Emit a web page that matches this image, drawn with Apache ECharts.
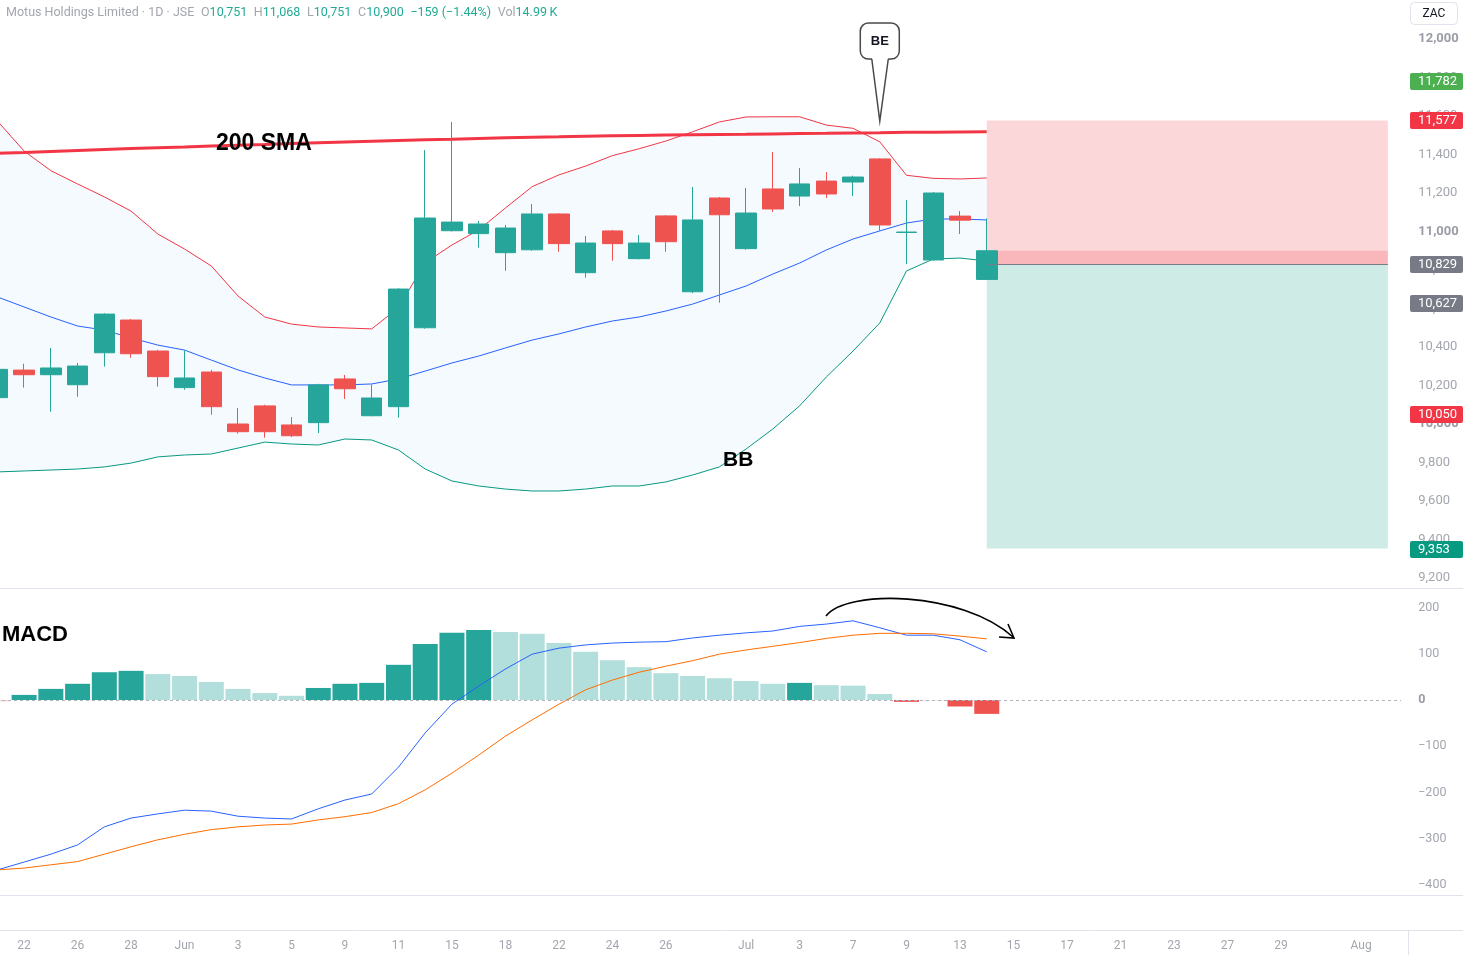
<!DOCTYPE html>
<html><head><meta charset="utf-8">
<script src="https://cdn.jsdelivr.net/npm/echarts@6/dist/echarts.min.js"></script>
<style>html,body{margin:0;padding:0;background:#fff;overflow:hidden;width:1463px;height:955px;position:relative}#c{position:absolute;left:-16px;top:0;width:1479px;height:955px}</style>
</head><body><div id="c"></div>
<script>
// ---------- DATA ----------
const categories = [
 '2020-05-21','2020-05-22','2020-05-25','2020-05-26','2020-05-27','2020-05-28','2020-05-29',
 '2020-06-01','2020-06-02','2020-06-03','2020-06-04','2020-06-05','2020-06-08','2020-06-09','2020-06-10','2020-06-11','2020-06-12',
 '2020-06-15','2020-06-17','2020-06-18','2020-06-19','2020-06-22','2020-06-23','2020-06-24','2020-06-25','2020-06-26','2020-06-29','2020-06-30',
 '2020-07-01','2020-07-02','2020-07-03','2020-07-06','2020-07-07','2020-07-08','2020-07-09','2020-07-10','2020-07-13','2020-07-14',
 '2020-07-15','2020-07-16','2020-07-17','2020-07-20','2020-07-21','2020-07-22','2020-07-23','2020-07-24','2020-07-27','2020-07-28',
 '2020-07-29','2020-07-30','2020-07-31','2020-08-03','2020-08-04'];
const xTickLabels = [
 '','22','','26','','28','',
 'Jun','','3','','5','','9','','11','',
 '15','','18','','22','','24','','26','','',
 'Jul','','3','','7','','9','','13','',
 '15','','17','','21','','23','','27','',
 '29','','','Aug',''];
const openP  = [10137,10280,10256,10204,10370,10540,10379,10189,10270,10000,10094,9995,10007,10234,10043,10090,10500,11004,10989,10890,10905,11091,10786,11003,10859,11081,10687,11174,10911,11221,11184,11262,11257,11377,10995,10852,11080,10751];
const closeP = [10284,10256,10291,10301,10571,10365,10246,10239,10090,9960,9960,9939,10203,10183,10135,10701,11070,11049,11039,11018,11091,10937,10940,10937,10940,10947,11060,11087,11096,11117,11247,11195,11283,11034,10997,11200,11059,10900];
const lowP   = [10100,10189,10064,10142,10298,10344,10194,10178,10048,9950,9929,9932,9953,10130,10040,10033,10495,11000,10916,10796,10900,10895,10760,10848,10855,10895,10680,10630,10905,11101,11132,11174,11184,11003,10831,10848,10987,10751];
const highP  = [10300,10313,10395,10317,10575,10545,10385,10383,10281,10083,10100,10036,10209,10255,10206,10705,11423,11569,11055,11034,11143,11095,10977,11008,10982,11085,11231,11179,11226,11413,11330,11309,11290,11380,11164,11205,11106,11068];
const bbUpper  = [11574,11418,11316,11247,11180,11106,10987,10909,10821,10665,10556,10519,10504,10499,10494,10604,10838,10930,11008,11122,11233,11294,11340,11394,11430,11470,11518,11569,11595,11596,11596,11553,11536,11466,11292,11276,11273,11278];
const bbMiddle = [10660,10608,10556,10509,10488,10447,10410,10384,10332,10281,10239,10203,10203,10203,10208,10234,10275,10317,10353,10395,10436,10468,10504,10535,10556,10587,10623,10670,10717,10779,10836,10904,10961,11003,11044,11065,11065,11060];
const bbLower  = [9751,9756,9761,9766,9777,9797,9829,9839,9844,9875,9906,9896,9891,9922,9917,9865,9766,9704,9678,9662,9652,9652,9662,9678,9678,9699,9735,9777,9870,9974,10094,10244,10379,10525,10795,10857,10862,10847];
const sma200   = [11406,11410,11416,11421,11426,11431,11435,11439,11444,11448,11452,11457,11461,11465,11469,11473,11477,11479,11483,11487,11490,11492,11495,11497,11499,11501,11503,11504,11505,11507,11509,11510,11512,11513,11515,11516,11517,11518];
const macdLine   = [-367,-350,-333,-313,-274,-255,-246,-238,-240,-251,-255,-257,-235,-216,-203,-145,-71,-9,30,67,99,112,119,123,125,126,134,140,145,149,159,164,171,156,140,140,130,104];
const signalLine = [-367,-363,-356,-349,-333,-317,-302,-290,-280,-274,-270,-268,-259,-252,-243,-224,-194,-158,-119,-78,-43,-9,22,43,60,73,85,99,108,116,124,133,140,144,144,143,138,132];
const macdHist   = [-3,11,24,35,60,63,56,52,39,24,15,9,26,35,37,76,121,145,151,147,143,123,104,86,71,58,52,47,41,35,37,32,31,13,-4,-1,-14,-30];
const priceTags  = [11782, 11577, 10829, 10627, 10050, 9353];
const tagColors  = ['#4caf50','#f23645','#787b86','#787b86','#f23645','#089981'];
const stopPrice = 11577, entryPrice = 10829, targetPrice = 9353;
const posStart = '2020-07-14', posEnd = '2020-08-04';
const beAnchor = ['2020-07-08', 11574];
const headerTitle = 'Motus Holdings Limited · 1D · JSE';
const headerChange = '\u2212159 (\u22121.44%)';
const headerVol = '14.99\u2009K';

// ---------- CHART ----------
const OX = 16; // container is shifted left by OX px
const UP = '#26a69a', DOWN = '#ef5350';
const n = openP.length;
const pad = arr => categories.map((c, i) => i < arr.length ? arr[i] : '-');
const candleData = categories.map((c, i) => i < n ? [openP[i], closeP[i], lowP[i], highP[i]] : '-');
const bandData = pad(bbUpper.map((u, i) => u - bbLower[i]));
const histData = categories.map((c, i) => {
  if (i >= n) return '-';
  const v = macdHist[i], p = i > 0 ? macdHist[i - 1] : v;
  let col;
  if (v >= 0) col = v > p ? '#26a69a' : '#b2dfdb';
  else col = v < p ? '#ef5350' : '#ffcdd2';
  if (i === 0) col = '#ffcdd2';
  return { value: v, itemStyle: { color: col } };
});
const fmtNum = v => {
  const s = Math.abs(v).toLocaleString('en-US');
  return (v < 0 ? '\u2212' : '') + s;
};
const axisFont = 'Roboto, "Noto Sans", sans-serif';
const LBL = '#a3a6af';
const bw = 26.74;
const gridWidth = bw * categories.length;

const chart = echarts.init(document.getElementById('c'), null, { renderer: 'canvas' });
const option = {
  animation: false,
  backgroundColor: '#ffffff',
  grid: [
    { left: 0, width: gridWidth, top: 0.5, height: 577.5 },
    { left: 0, width: gridWidth, top: 607.4, height: 277.8 }
  ],
  xAxis: [
    { type: 'category', gridIndex: 0, data: categories, boundaryGap: true, show: false },
    { type: 'category', gridIndex: 1, data: categories, boundaryGap: true, offset: 45,
      axisLine: { show: false }, axisTick: { show: false }, splitLine: { show: false },
      axisLabel: { interval: 0, margin: 10, color: LBL, fontSize: 12, fontFamily: axisFont, hideOverlap: false,
        formatter: (v, i) => xTickLabels[i] } }
  ],
  yAxis: [
    { type: 'value', gridIndex: 0, position: 'right', min: 9200, max: 12200, interval: 200,
      axisLine: { show: false }, axisTick: { show: false }, splitLine: { show: false },
      axisLabel: { margin: 17, color: LBL, fontSize: 13, fontFamily: axisFont, align: 'left',
        formatter: v => v === 12200 ? '' : (v % 1000 === 0 ? '{b|' + fmtNum(v) + '}' : fmtNum(v)),
        rich: { b: { fontWeight: 'bold', color: '#9a9da6', fontSize: 13, fontFamily: axisFont } } } },
    { type: 'value', gridIndex: 1, position: 'right', min: -400, max: 200, interval: 100,
      axisLine: { show: false }, axisTick: { show: false }, splitLine: { show: false },
      axisLabel: { margin: 17, color: LBL, fontSize: 12.5, fontFamily: axisFont, align: 'left',
        formatter: v => v === 0 ? '{b|0}' : fmtNum(v),
        rich: { b: { fontWeight: 'bold', color: '#9a9da6', fontSize: 12.5, fontFamily: axisFont } } } }
  ],
  series: [
    { name: 'bbBase', type: 'line', xAxisIndex: 0, yAxisIndex: 0, data: pad(bbLower), stack: 'bb',
      symbol: 'none', lineStyle: { opacity: 0 }, silent: true, z: 1 },
    { name: 'bbBand', type: 'line', xAxisIndex: 0, yAxisIndex: 0, data: bandData, stack: 'bb',
      symbol: 'none', lineStyle: { opacity: 0 }, areaStyle: { color: 'rgba(33,150,243,0.05)', opacity: 1 }, silent: true, z: 1 },
    { name: 'upper', type: 'line', xAxisIndex: 0, yAxisIndex: 0, data: pad(bbUpper), symbol: 'none',
      lineStyle: { color: '#f23645', width: 1 }, z: 2 },
    { name: 'middle', type: 'line', xAxisIndex: 0, yAxisIndex: 0, data: pad(bbMiddle), symbol: 'none',
      lineStyle: { color: '#2962ff', width: 1 }, z: 2 },
    { name: 'lower', type: 'line', xAxisIndex: 0, yAxisIndex: 0, data: pad(bbLower), symbol: 'none',
      lineStyle: { color: '#089981', width: 1 }, z: 2 },
    { name: 'sma', type: 'line', xAxisIndex: 0, yAxisIndex: 0, data: pad(sma200), symbol: 'none',
      lineStyle: { color: '#f23645', width: 3 }, z: 3 },
    { name: 'price', type: 'candlestick', xAxisIndex: 0, yAxisIndex: 0, data: candleData, barWidth: 21,
      itemStyle: { color: UP, color0: DOWN, borderColor: UP, borderColor0: DOWN, borderWidth: 1 }, z: 4 },
    { name: 'position', type: 'line', xAxisIndex: 0, yAxisIndex: 0, data: categories.map(() => '-'), z: 6,
      silent: true,
      markArea: { silent: true, label: { show: false },
        data: [
          [{ xAxis: posStart, yAxis: stopPrice, itemStyle: { color: 'rgba(242,54,69,0.2)' } }, { xAxis: posEnd, yAxis: entryPrice }],
          [{ xAxis: posStart, yAxis: entryPrice, itemStyle: { color: 'rgba(8,153,129,0.2)' } }, { xAxis: posEnd, yAxis: targetPrice }],
          [{ xAxis: posStart, yAxis: closeP[n - 1], itemStyle: { color: 'rgba(242,54,69,0.2)' } }, { xAxis: posEnd, yAxis: entryPrice }]
        ] },
      markLine: { silent: true, symbol: 'none', label: { show: false },
        lineStyle: { color: '#787b86', width: 1, type: 'solid' },
        data: [[{ xAxis: posStart, yAxis: entryPrice }, { xAxis: posEnd, yAxis: entryPrice }]] } },
    { name: 'hist', type: 'bar', xAxisIndex: 1, yAxisIndex: 1, data: histData, barWidth: 25, z: 2,
      markLine: { silent: true, symbol: 'none', label: { show: false },
        lineStyle: { color: '#b2b5be', width: 1, type: [3, 3] }, data: [{ yAxis: 0 }] } },
    { name: 'macd', type: 'line', xAxisIndex: 1, yAxisIndex: 1, data: pad(macdLine), symbol: 'none',
      lineStyle: { color: '#2962ff', width: 1 }, z: 3 },
    { name: 'signal', type: 'line', xAxisIndex: 1, yAxisIndex: 1, data: pad(signalLine), symbol: 'none',
      lineStyle: { color: '#ff6d00', width: 1 }, z: 3 }
  ]
};
chart.setOption(option);

// ---------- ANNOTATIONS ----------
const g = [];
const SEP = '#e0e3eb';
[588, 895, 930].forEach(y => g.push({ type: 'line', shape: { x1: 0, y1: y + 0.5, x2: 1463 + OX, y2: y + 0.5 }, style: { stroke: SEP, lineWidth: 1 }, z: 50, silent: true }));
g.push({ type: 'line', shape: { x1: 1408.5 + OX, y1: 930, x2: 1408.5 + OX, y2: 955 }, style: { stroke: SEP, lineWidth: 1 }, z: 50, silent: true });

priceTags.forEach((p, i) => {
  const y = chart.convertToPixel({ yAxisIndex: 0 }, p);
  g.push({ type: 'rect', shape: { x: 1410 + OX, y: Math.round(y) - 8, width: 53, height: 17, r: 2 }, style: { fill: tagColors[i] }, z: 100, silent: true });
  g.push({ type: 'text', x: 1418 + OX, y: Math.round(y) + 0.5, style: { text: fmtNum(p), fill: '#ffffff', font: '13px ' + axisFont, verticalAlign: 'middle', align: 'left' }, z: 101, silent: true });
});

// ZAC box
g.push({ type: 'rect', shape: { x: 1410.5 + OX, y: 2.5, width: 47, height: 22, r: 4 }, style: { fill: '#fff', stroke: '#e0e3eb', lineWidth: 1 }, z: 100 });
g.push({ type: 'text', x: 1434 + OX, y: 14, style: { text: 'ZAC', fill: '#131722', font: '12px ' + axisFont, align: 'center', verticalAlign: 'middle' }, z: 101 });

// header
const lc = closeP[n - 1], lo = openP[n - 1], lh = highP[n - 1], ll = lowP[n - 1];
g.push({ type: 'text', x: 6 + OX, y: 13, z: 100, style: {
  text: '{t|' + headerTitle + '}  {g|O}{v|' + fmtNum(lo) + '}  {g|H}{v|' + fmtNum(lh) + '}  {g|L}{v|' + fmtNum(ll) + '}  {g|C}{v|' + fmtNum(lc) + '}  {v|' + headerChange + '}  {g|Vol}{v|' + headerVol + '}',
  verticalAlign: 'middle',
  rich: {
    t: { fill: '#a3a6af', font: '12.5px ' + axisFont },
    g: { fill: '#a3a6af', font: '12.5px ' + axisFont },
    v: { fill: '#22ab94', font: '12.5px ' + axisFont }
  } } });

// text annotations
const annFamily = '"Liberation Sans", Arial, sans-serif';
g.push({ type: 'text', x: 216 + OX, y: 144, z: 60, style: { text: '200 SMA', fill: '#000', font: 'bold 23px ' + annFamily, verticalAlign: 'middle' } });
g.push({ type: 'text', x: 723 + OX, y: 460, z: 60, style: { text: 'BB', fill: '#000', font: 'bold 21px ' + annFamily, verticalAlign: 'middle' } });
g.push({ type: 'text', x: 2 + OX, y: 635, z: 60, style: { text: 'MACD', fill: '#000', font: 'bold 22px ' + annFamily, verticalAlign: 'middle' } });

// BE callout anchored to data
const tip = chart.convertToPixel({ gridIndex: 0 }, beAnchor);
g.push({ type: 'group', x: tip[0], y: tip[1], z: 70, children: [
  { type: 'rect', shape: { x: -19.5, y: -98, width: 39, height: 36, r: 8 }, style: { fill: '#ffffff', stroke: '#4a4a4a', lineWidth: 1.5 }, z: 70 },
  { type: 'polygon', shape: { points: [[-8, -63.6], [0, 0], [8.5, -63.6]] }, style: { fill: '#ffffff', stroke: null }, z: 71 },
  { type: 'polyline', shape: { points: [[-8, -62], [0, 0], [8.5, -62]] }, style: { stroke: '#4a4a4a', lineWidth: 1.5, fill: null }, z: 72 },
  { type: 'text', x: 0, y: -80, style: { text: 'BE', fill: '#131722', font: 'bold 13px ' + annFamily, align: 'center', verticalAlign: 'middle' }, z: 73 }
] });

// curved arrow on MACD
g.push({ type: 'bezierCurve', z: 70, shape: { x1: 826 + OX, y1: 616, cpx1: 846 + OX, cpy1: 589, cpx2: 962 + OX, cpy2: 591, x2: 1013 + OX, y2: 637 }, style: { stroke: '#000', lineWidth: 1.6, fill: null } });
g.push({ type: 'polyline', z: 70, shape: { points: [[1008 + OX, 624], [1014 + OX, 638], [999 + OX, 637]] }, style: { stroke: '#000', lineWidth: 1.6, fill: null } });

chart.setOption({ graphic: g });
</script>
</body></html>
